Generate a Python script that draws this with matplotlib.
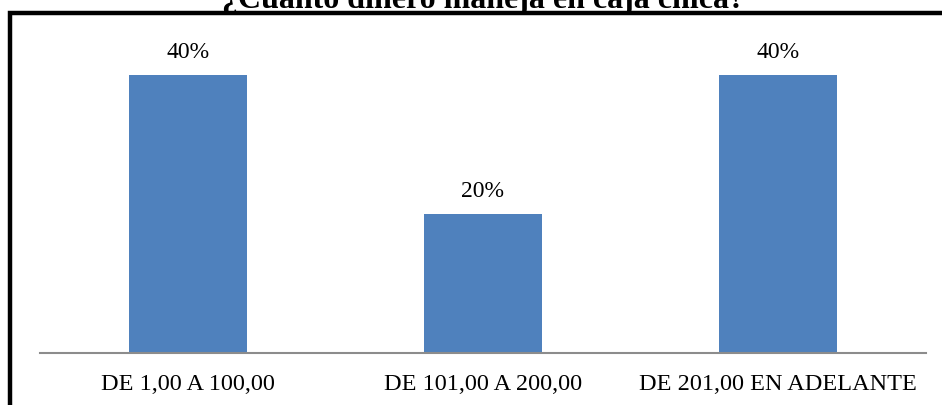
import matplotlib
matplotlib.use("Agg")
import matplotlib.pyplot as plt
from matplotlib.patches import Rectangle

# ===== 数据 =====
categories = ["DE 1,00 A 100,00", "DE 101,00 A 200,00", "DE 201,00 EN ADELANTE"]
values = [0.40, 0.20, 0.40]
labels = ["40%", "20%", "40%"]
title = "¿Cuánto dinero maneja en caja chica?"

plt.rcParams["font.family"] = ["Liberation Serif", "DejaVu Serif"]

W, H = 942, 405
fig = plt.figure(figsize=(W / 100, H / 100), dpi=100)
ax = fig.add_axes([40 / W, 1 - 353 / H, (926 - 40) / W, (353 - 40) / H])

x = range(len(categories))
ax.bar(x, values, width=0.40, color="#4F81BD", zorder=2)
for xi, v, lab in zip(x, values, labels):
    ax.annotate(lab, (xi, v), xytext=(0, 12), textcoords="offset points",
                ha="center", va="baseline", fontsize=17, color="black")

ax.set_xlim(-0.5, 2.5)
ax.set_ylim(0, 0.45)
ax.set_xticks(list(x))
ax.set_xticklabels(categories, fontsize=17.5)
ax.tick_params(axis="x", length=0, pad=15)
ax.set_yticks([])
for s in ["top", "right", "left"]:
    ax.spines[s].set_visible(False)
ax.spines["bottom"].set_color("#8c8c8c")
ax.spines["bottom"].set_linewidth(1.5)

# 外框（图表区边框）
fig.add_artist(Rectangle((10 / W, -0.1), 1.2, 1.1 - 13 / H, transform=fig.transFigure,
                         fill=False, edgecolor="black", linewidth=3.2))

# 标题（上半部分被裁掉）
fig.text(483 / W, 1 - 8 / H, title, ha="center", va="baseline",
         fontsize=23, fontweight="bold")

fig.savefig("out.png", dpi=100)
